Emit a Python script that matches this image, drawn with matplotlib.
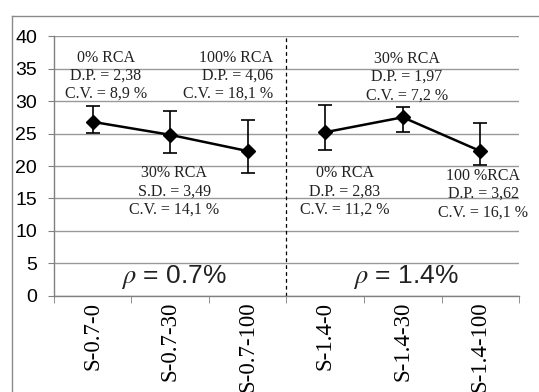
import numpy as np
import matplotlib.pyplot as plt
from matplotlib.lines import Line2D

# compressive strength by mix, two reinforcement ratios
samples = ['S-0.7-0', 'S-0.7-30', 'S-0.7-100', 'S-1.4-0', 'S-1.4-30', 'S-1.4-100']
means = [26.8, 24.8, 22.3, 25.2, 27.5, 22.3]
err_low = [1.7, 2.8, 3.4, 2.7, 2.3, 2.1]
err_high = [2.4, 3.7, 4.8, 4.2, 1.6, 4.3]
groups = [[0, 1, 2], [3, 4, 5]]
rho_labels = [r'$\rho$ = 0.7%', r'$\rho$ = 1.4%']

# annotation text blocks: (x, y of first line, alignment, lines)
notes = [
    (0.17, 36.7, 'center', ['0% RCA', 'D.P. = 2,38', 'C.V. = 8,9 %']),
    (2.33, 36.7, 'right', ['100% RCA', 'D.P. = 4,06', 'C.V. = 18,1 %']),
    (1.05, 18.9, 'center', ['30% RCA', 'S.D. = 3,49', 'C.V. = 14,1 %']),
    (4.05, 36.5, 'center', ['30% RCA', 'D.P. = 1,97', 'C.V. = 7,2 %']),
    (3.25, 18.9, 'center', ['0% RCA', 'D.P. = 2,83', 'C.V. = 11,2 %']),
    (5.04, 18.5, 'center', ['100 %RCA', 'D.P. = 3,62', 'C.V. = 16,1 %']),
]

plt.rcParams['mathtext.fontset'] = 'stix'
fig = plt.figure(figsize=(5.39, 3.92), dpi=100)
ax = fig.add_axes([0.100, 0.245, 0.863, 0.663])

x = np.arange(len(samples))
for g in groups:
    ax.errorbar(x[g], np.array(means)[g],
                yerr=[np.array(err_low)[g], np.array(err_high)[g]],
                fmt='-D', color='black', lw=1.8, ms=7, elinewidth=1.2,
                capsize=5, capthick=1.2, zorder=3)

ax.axvline(2.5, color='black', lw=0.9, ls=(0, (3, 2.5)), zorder=2)

for xc, y0, ha, lines in notes:
    for i, s in enumerate(lines):
        ax.text(xc, y0 - i * 2.8, s, ha=ha, va='center',
                fontsize=11.5, family='Liberation Serif', color='#222222')

for i, s in enumerate(rho_labels):
    ax.text(1.04 + 3 * i, 2.9, s, ha='center', va='center', fontsize=19,
            family='Liberation Sans', color='#222222')

ax.set_xlim(-0.5, 5.5)
ax.set_ylim(0, 40)
ax.set_yticks(np.arange(0, 41, 5))
ax.set_xticks(x)
ax.set_xticklabels(samples, rotation=90, fontsize=16.5, family='Liberation Serif')
ax.set_xticks(np.arange(-0.5, 6, 1), minor=True)
ax.tick_params(axis='x', which='major', length=0, pad=4)
ax.tick_params(axis='x', which='minor', length=5, color='#808080')
ax.tick_params(axis='y', length=4, color='#808080', labelsize=14, pad=8)
for lab in ax.get_yticklabels():
    lab.set_family('Liberation Sans')

ax.grid(axis='y', color='#999999', lw=1.0)
ax.set_axisbelow(True)
for side in ['top', 'right']:
    ax.spines[side].set_visible(False)
for side in ['left', 'bottom']:
    ax.spines[side].set_color('#808080')
    ax.spines[side].set_linewidth(1.0)

# outer frame
fig.add_artist(Line2D([12 / 539, 12 / 539], [0, 1 - 16 / 392], color='#8a8a8a', lw=1.0))
fig.add_artist(Line2D([12 / 539, 1], [1 - 16 / 392, 1 - 16 / 392], color='#8a8a8a', lw=1.0))

fig.savefig('out.png', dpi=100)
